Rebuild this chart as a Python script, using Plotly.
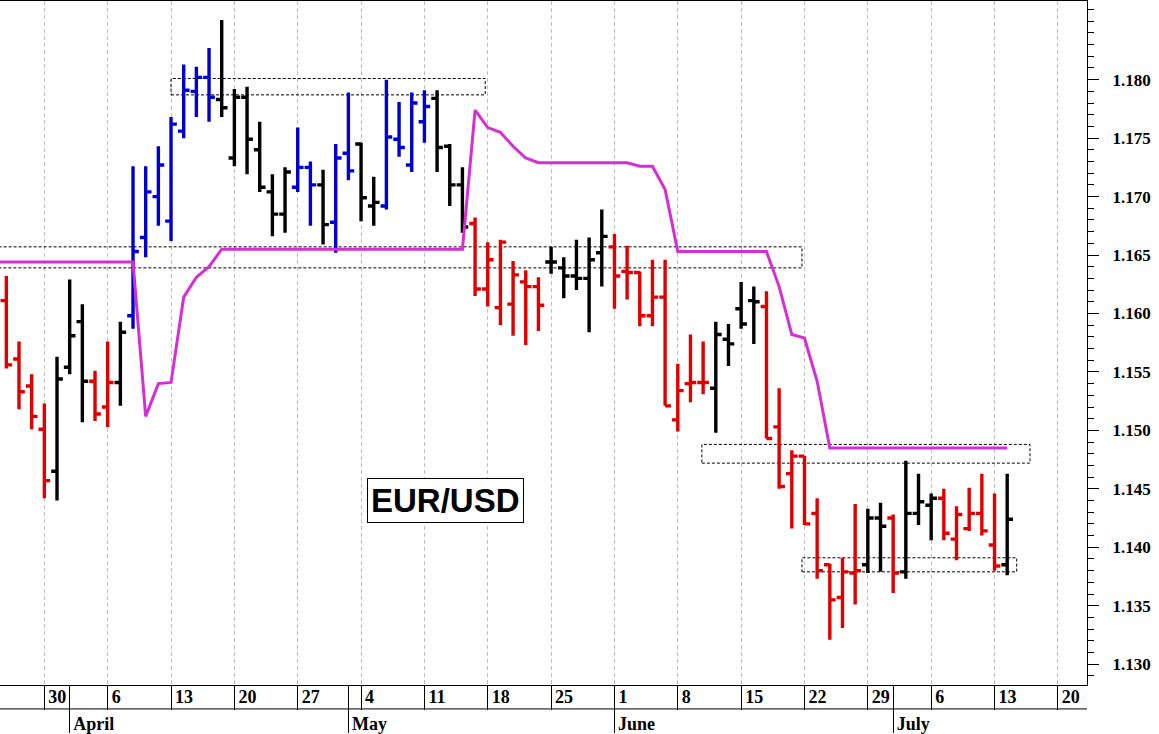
import numpy as np
import pandas as pd
import plotly.graph_objects as go

# ---------------- data ----------------
dates = pd.bdate_range("2020-03-25", "2020-07-14")  # trading days

opens = [1.1611, 1.1561, 1.1538, 1.1501, 1.1465, 1.1554, 1.1593, 1.1542, 1.1520, 1.1541,
         1.1598, 1.1665, 1.1700, 1.1679, 1.1756, 1.1790, 1.1802, 1.1783, 1.1733, 1.1785,
         1.1740, 1.1704, 1.1685, 1.1708, 1.1725, 1.1710, 1.1678, 1.1737, 1.1745, 1.1692,
         1.1692, 1.1749, 1.1727, 1.1764, 1.1784, 1.1743, 1.1710, 1.1677, 1.1621, 1.1605,
         1.1608, 1.1627, 1.1623, 1.1644, 1.1639, 1.1632, 1.1630, 1.1652, 1.1657, 1.1636,
         1.1635, 1.1598, 1.1614, 1.1509, 1.1540, 1.1541, 1.1536, 1.1578, 1.1604, 1.1611,
         1.1606, 1.1503, 1.1463, 1.1478, 1.1429, 1.1385, 1.1357, 1.1378, 1.1385, 1.1425,
         1.1425, 1.1379, 1.1429, 1.1436, 1.1442, 1.1407, 1.1416, 1.1429, 1.1402, 1.1385]
highs = [1.1632, 1.1576, 1.1548, 1.1523, 1.1563, 1.1629, 1.1608, 1.1551, 1.1576, 1.1593,
         1.1726, 1.1726, 1.1743, 1.1768, 1.1813, 1.1811, 1.1827, 1.1851, 1.1792, 1.1794,
         1.1764, 1.1719, 1.1725, 1.1759, 1.1730, 1.1723, 1.1745, 1.1789, 1.1746, 1.1717,
         1.1800, 1.1781, 1.1789, 1.1791, 1.1791, 1.1745, 1.1725, 1.1682, 1.1661, 1.1663,
         1.1645, 1.1637, 1.1631, 1.1657, 1.1648, 1.1663, 1.1665, 1.1689, 1.1668, 1.1658,
         1.1636, 1.1646, 1.1646, 1.1557, 1.1582, 1.1576, 1.1593, 1.1591, 1.1627, 1.1623,
         1.1619, 1.1536, 1.1483, 1.1478, 1.1442, 1.1386, 1.1391, 1.1437, 1.1433, 1.1438,
         1.1428, 1.1474, 1.1463, 1.1446, 1.1450, 1.1435, 1.1451, 1.1463, 1.1446, 1.1463]
lows = [1.1553, 1.1518, 1.1501, 1.1442, 1.1440, 1.1548, 1.1507, 1.1508, 1.1503, 1.1521,
        1.1587, 1.1648, 1.1675, 1.1662, 1.1750, 1.1768, 1.1764, 1.1768, 1.1726, 1.1719,
        1.1704, 1.1666, 1.1669, 1.1704, 1.1675, 1.1659, 1.1652, 1.1714, 1.1679, 1.1675,
        1.1689, 1.1734, 1.1721, 1.1746, 1.1721, 1.1692, 1.1669, 1.1615, 1.1606, 1.1590,
        1.1581, 1.1573, 1.1585, 1.1634, 1.1613, 1.1620, 1.1584, 1.1623, 1.1604, 1.1612,
        1.1589, 1.1589, 1.1521, 1.1499, 1.1524, 1.1531, 1.1498, 1.1555, 1.1587, 1.1574,
        1.1493, 1.1450, 1.1416, 1.1419, 1.1373, 1.1321, 1.1331, 1.1351, 1.1378, 1.1379,
        1.1361, 1.1373, 1.1419, 1.1406, 1.1406, 1.1389, 1.1414, 1.1410, 1.1380, 1.1376]
closes = [1.1556, 1.1533, 1.1512, 1.1457, 1.1544, 1.1581, 1.1542, 1.1514, 1.1541, 1.1584,
          1.1653, 1.1704, 1.1727, 1.1762, 1.1791, 1.1802, 1.1785, 1.1776, 1.1785, 1.1749,
          1.1708, 1.1685, 1.1721, 1.1725, 1.1710, 1.1676, 1.1733, 1.1722, 1.1699, 1.1695,
          1.1751, 1.1742, 1.1780, 1.1777, 1.1742, 1.1710, 1.1674, 1.1621, 1.1646, 1.1661,
          1.1633, 1.1623, 1.1607, 1.1644, 1.1632, 1.1630, 1.1646, 1.1666, 1.1632, 1.1635,
          1.1598, 1.1614, 1.1521, 1.1534, 1.1541, 1.1541, 1.1582, 1.1574, 1.1591, 1.1610,
          1.1493, 1.1452, 1.1478, 1.1420, 1.1380, 1.1355, 1.1379, 1.1380, 1.1425, 1.1418,
          1.1378, 1.1429, 1.1439, 1.1442, 1.1412, 1.1428, 1.1429, 1.1414, 1.1384, 1.1424]
# bar state: D = down (red), N = neutral (black), U = up (blue)
bar_state = list("DDDDNNNDDNUUUUUUUNNNNNNUUNUUNNUUUUNNNDDDDDDNNNNN"
                 "DDDDDDDDNNNNDDDDDDDDNNDNNNDDDDDN")

stop_dates = pd.bdate_range("2020-03-24", "2020-07-14")
stop_line = [1.1644] * 12 + [1.1512, 1.1540, 1.1541, 1.1614, 1.1631, 1.1640] + [1.1655] * 20 + \
            [1.1774, 1.1759, 1.1755, 1.1743, 1.1733] + [1.1729] * 8 + [1.1726, 1.1726, 1.1706] + \
            [1.1653] * 8 + [1.1623, 1.1582, 1.1579, 1.1542] + [1.1485] * 15

zone_start = ["2020-04-13 00:00", "2020-03-20 00:00", "2020-06-09 21:36", "2020-06-19 19:12"]
zone_end = ["2020-05-15 19:12", "2020-06-19 19:12", "2020-07-15 19:12", "2020-07-14 18:00"]
zone_low = [1.1787, 1.1639, 1.1472, 1.1379]
zone_high = [1.1801, 1.1657, 1.1488, 1.1391]

week_ticks = pd.date_range("2020-03-30", "2020-07-20", freq="W-MON")
month_names = ["April", "May", "June", "July"]
month_first = ["2020-04-01", "2020-05-01", "2020-06-01", "2020-07-01"]
price_ticks = [1.130, 1.135, 1.140, 1.145, 1.150, 1.155, 1.160, 1.165, 1.170, 1.175, 1.180]

# ------------- trading-day scale -------------
BASE = np.datetime64("2020-03-30", "D")


def tpos(ts):
    ts = pd.Timestamp(ts)
    day = ts.normalize()
    frac = (ts - day) / pd.Timedelta(days=1)
    return float(np.busday_count(BASE, np.datetime64(day.date(), "D"))) + frac


xb = [tpos(d) for d in dates]
xs = [tpos(d) for d in stop_dates]

COLORS = {"D": "#e00000", "N": "#000000", "U": "#0000d2"}
SERIF = "Liberation Serif"

fig = go.Figure()
for state, col in COLORS.items():
    o = [v if s == state else None for v, s in zip(opens, bar_state)]
    h = [v if s == state else None for v, s in zip(highs, bar_state)]
    l = [v if s == state else None for v, s in zip(lows, bar_state)]
    c = [v if s == state else None for v, s in zip(closes, bar_state)]
    fig.add_trace(go.Ohlc(
        x=xb, open=o, high=h, low=l, close=c, tickwidth=0.46,
        increasing=dict(line=dict(color=col, width=3.4)),
        decreasing=dict(line=dict(color=col, width=3.4)),
        hoverinfo="skip", showlegend=False))

fig.add_trace(go.Scatter(x=xs, y=stop_line, mode="lines", xaxis="x2",
                         line=dict(color="#d62ed6", width=3),
                         hoverinfo="skip", showlegend=False))

for x0, x1, lo, hi in zip(zone_start, zone_end, zone_low, zone_high):
    fig.add_shape(type="rect", xref="x", yref="y", x0=tpos(x0), x1=tpos(x1), y0=lo, y1=hi,
                  line=dict(color="black", width=1, dash="3px,2px"), layer="between")

# divider between week row and month row
fig.add_shape(type="line", xref="paper", yref="paper", x0=0, x1=1, y0=-24 / 686, y1=-24 / 686,
              line=dict(color="black", width=1))

fig.add_annotation(x=31.63, y=1.1440, xref="x", yref="y", text="<b>EUR/USD</b>",
                   showarrow=False, font=dict(family="Liberation Sans", size=33, color="black"),
                   bgcolor="white", bordercolor="black", borderwidth=1, borderpad=3)

xr = [-3.5, 82.3]
fig.update_layout(
    width=1159, height=734,
    margin=dict(l=0, r=72, t=1, b=47),
    paper_bgcolor="white", plot_bgcolor="white",
    showlegend=False,
    xaxis=dict(
        range=xr, rangeslider=dict(visible=False),
        tickmode="array", tickvals=[tpos(d) for d in week_ticks],
        ticktext=[str(d.day) for d in week_ticks],
        ticks="outside", ticklen=24, tickcolor="black", tickwidth=1,
        ticklabelposition="outside right", ticklabelstandoff=-5, ticklabelshift=3,
        tickfont=dict(family=SERIF, size=18, color="black", weight="bold"),
        showgrid=True, gridcolor="#bdbdbd", gridwidth=1, griddash="4px,3px",
        showline=True, linecolor="black", linewidth=1, mirror=True,
        zeroline=False, fixedrange=True,
    ),
    xaxis2=dict(
        overlaying="x", anchor="y", side="bottom", range=xr,
        tickmode="array", tickvals=[tpos(d) for d in month_first], ticktext=month_names,
        ticks="outside", ticklen=47, tickcolor="black", tickwidth=1,
        ticklabelposition="outside right", ticklabelstandoff=22, ticklabelshift=3,
        tickfont=dict(family=SERIF, size=18, color="black", weight="bold"),
        showgrid=False, showline=False, zeroline=False, fixedrange=True,
    ),
    yaxis=dict(
        range=[1.12822, 1.18673], side="right",
        tickmode="array", tickvals=price_ticks, tickformat=".3f",
        ticks="outside", ticklen=11, tickcolor="black", tickwidth=1,
        minor=dict(tickmode="linear", tick0=1.128, dtick=0.001, ticks="outside",
                   ticklen=6, tickcolor="black", tickwidth=1, showgrid=False),
        ticklabelstandoff=10,
        tickfont=dict(family=SERIF, size=17, color="black", weight="bold"),
        showgrid=False, showline=True, linecolor="black", linewidth=1,
        zeroline=False, fixedrange=True,
    ),
)

fig.write_html("out.html", config={"displayModeBar": False},
               post_script="document.body.style.margin='0';document.body.style.overflow='hidden';")
